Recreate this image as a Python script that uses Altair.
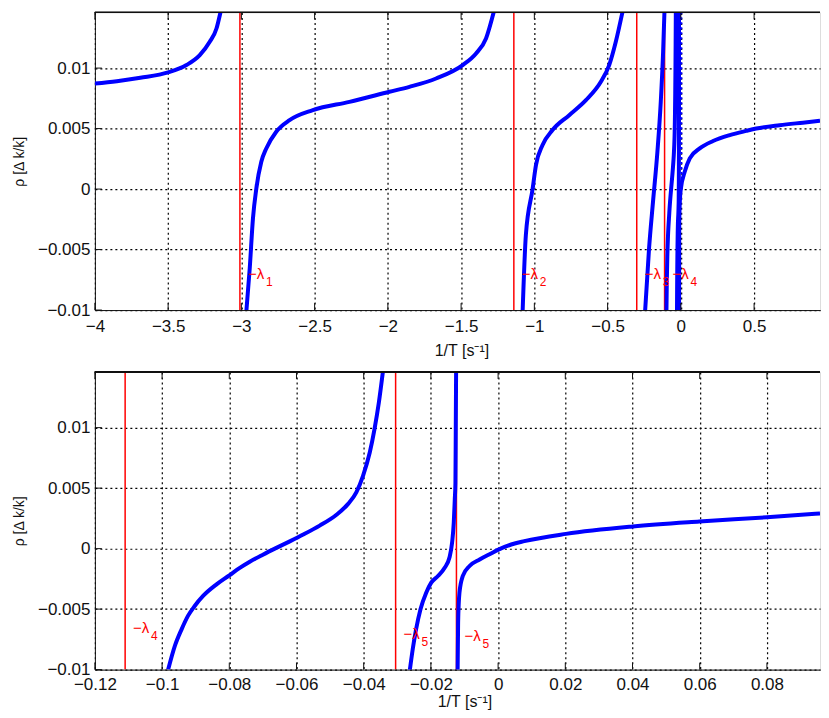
import altair as alt
import pandas as pd

# ---------------- data ----------------
lam = [3.01, 1.14, 0.301, 0.111, 0.0305, 0.0124]   # red lines at x = -lambda
lam_top = [3.01, 1.14, 0.301, 0.111]                # the ones visible in the upper panel

top_lab_x = [-3.01, -1.14, -0.301, -0.111]
top_lab_y = [-0.0074, -0.0074, -0.0074, -0.0074]
top_lab_sub = ["1", "2", "3", "4"]
bot_lab_x = [-0.111, -0.0305, -0.0124]
bot_lab_y = [-0.0070, -0.0075, -0.0076]
bot_lab_sub = ["4", "5", "5"]

# branches of rho(1/T)
b1_x = [-4.0, -3.85, -3.69, -3.5, -3.375, -3.284, -3.216, -3.17, -3.143]
b1_y = [0.00873, 0.00892, 0.0092, 0.00964, 0.01025, 0.01107, 0.01217, 0.01327, 0.0146]

b2_x = [-2.966, -2.943, -2.921, -2.898, -2.864, -2.83, -2.762, -2.671, -2.512,
        -2.262, -1.989, -1.853, -1.671, -1.489, -1.398, -1.33, -1.278]
b2_y = [-0.0101, -0.00656, -0.00243, 0.00005, 0.00226, 0.00336, 0.00474, 0.0057, 0.00653,
        0.00721, 0.00804, 0.00845, 0.00914, 0.01025, 0.01121, 0.01245, 0.0146]

b3_x = [-1.08, -1.058, -1.012, -0.989, -0.944, -0.876, -0.762, -0.648, -0.546, -0.489, -0.444, -0.399]
b3_y = [-0.0101, -0.0038, 0.0, 0.00198, 0.00364, 0.00488, 0.00611, 0.00735, 0.00887, 0.01025, 0.01217, 0.0146]

b4_x = [-0.244, -0.217, -0.19, -0.16, -0.137, -0.121, -0.112]
b4_y = [-0.0101, -0.00491, -0.00105, 0.00308, 0.00721, 0.01135, 0.0146]

b5_x = [-0.0982, -0.0962, -0.0942, -0.0923, -0.0903, -0.0878, -0.0838, -0.0800, -0.0770, -0.0739,
        -0.0700, -0.0660, -0.0620, -0.0580, -0.0531, -0.0481, -0.0447, -0.0422, -0.0402, -0.0382,
        -0.0368, -0.0355, -0.0343]
b5_y = [-0.0100, -0.00804, -0.00667, -0.00556, -0.00474, -0.00391, -0.00295, -0.00221, -0.00161, -0.00108,
        -0.0005, 0.00006, 0.0006, 0.00116, 0.0019, 0.0028, 0.00368, 0.00465, 0.00602, 0.00794,
        0.00986, 0.01206, 0.0146]

b6_x = [-0.0263, -0.0254, -0.0244, -0.0231, -0.0214, -0.0199, -0.0179, -0.0159, -0.0145, -0.0137,
        -0.0132, -0.0129, -0.0127, -0.0126, -0.0125]
b6_y = [-0.0101, -0.0083, -0.00666, -0.00501, -0.00364, -0.00281, -0.00226, -0.00158, -0.00076, 0.00048,
        0.00212, 0.00404, 0.00542, 0.00986, 0.0146]

# right-most branch as read in the lower (zoomed) panel
b7b_x = [-0.01205, -0.0119, -0.0115, -0.0105, -0.0085, -0.0055, -0.0021, 0.0001, 0.0039, 0.0078,
         0.0202, 0.0401, 0.0599, 0.08, 0.0958]
b7b_y = [-0.0101, -0.0061, -0.00364, -0.00226, -0.00144, -0.0009, -0.0004, -0.00008, 0.00034, 0.00062,
         0.00122, 0.00183, 0.00224, 0.00259, 0.00291]
# right-most branch as read in the upper panel
b7t_x = [-0.0121, -0.0110, -0.0055, 0.0, 0.027, 0.061, 0.129, 0.22, 0.334, 0.447, 0.515, 0.674, 0.833, 0.95]
b7t_y = [-0.0100, -0.0028, -0.0007, 0.0, 0.00145, 0.00254, 0.00336, 0.00397, 0.00446, 0.00481,
         0.005, 0.00528, 0.00549, 0.00564]

# thin dotted trace near x = 0 in the upper panel
art_x = [0.005, 0.005]
art_y = [0.0, 0.0146]

top_x_ticks = [-4, -3.5, -3, -2.5, -2, -1.5, -1, -0.5, 0, 0.5]
bot_x_ticks = [-0.12, -0.1, -0.08, -0.06, -0.04, -0.02, 0, 0.02, 0.04, 0.06, 0.08]
y_ticks = [-0.01, -0.005, 0, 0.005, 0.01]
y_top = 0.0146


def curves(branches):
    rows = []
    for b, (xs, ys) in enumerate(branches):
        for i, (xv, yv) in enumerate(zip(xs, ys)):
            rows.append({"branch": b, "i": i, "x": xv, "y": yv})
    return pd.DataFrame(rows)


top_curves = curves([(b1_x, b1_y), (b2_x, b2_y), (b3_x, b3_y), (b4_x, b4_y),
                     (b5_x, b5_y), (b6_x, b6_y), (b7t_x, b7t_y)])
bot_curves = curves([(b5_x, b5_y), (b6_x, b6_y), (b7b_x, b7b_y)])
lam_top_df = pd.DataFrame({"x": [-v for v in lam_top]})
lam_bot_df = pd.DataFrame({"x": [-v for v in lam]})
top_lab = pd.DataFrame({"x": top_lab_x, "y": top_lab_y, "s": top_lab_sub})
bot_lab = pd.DataFrame({"x": bot_lab_x, "y": bot_lab_y, "s": bot_lab_sub})
art_df = pd.DataFrame({"x": art_x, "y": art_y})
yt_df = pd.DataFrame({"y": y_ticks})

FONT = "Liberation Sans"
H = 298
grid_kw = dict(grid=True, gridColor="black", gridDash=[2, 3], gridWidth=1.2, gridOpacity=1)


def panel(cdf, lamdf, labdf, xdom, xticks, width, lab_pad, title_x, title_y, extra=None):
    xax = alt.Axis(values=xticks, title="1/T [s⁻¹]", ticks=False, tickSize=0,
                   domain=True, domainColor="#111", domainWidth=1,
                   labelPadding=lab_pad, labelFontSize=17, labelFont=FONT, labelColor="#111",
                   labelFlush=False, labelOverlap=False, format=".3~g",
                   titleFont=FONT, titleFontSize=16, titleFontWeight="normal", titleColor="#111",
                   titleX=title_x, titleY=title_y, titleBaseline="top", **grid_kw)
    yax = alt.Axis(values=y_ticks, title="ρ [Δ k/k]", ticks=False, tickSize=0,
                   domain=True, domainColor="#111", domainWidth=1,
                   labelPadding=5, labelFontSize=17, labelFont=FONT, labelColor="#111",
                   format=".3~g",
                   titleFont=FONT, titleFontSize=14, titleFontWeight="normal", titleColor="#111",
                   titleX=-75, titleY=H / 2, titleBaseline="middle", **grid_kw)
    xs = alt.Scale(domain=xdom, nice=False, zero=False)
    ys = alt.Scale(domain=[-0.01, y_top], nice=False, zero=False)
    X = alt.X("x:Q", scale=xs, axis=xax)
    Y = alt.Y("y:Q", scale=ys, axis=yax)

    xt_df = pd.DataFrame({"x": xticks})
    rules = alt.Chart(lamdf).mark_rule(color="#ff0000", strokeWidth=1.5, clip=True).encode(x=X)
    lines = alt.Chart(cdf).mark_line(color="#0000ff", strokeWidth=4, clip=True,
                                     interpolate="monotone").encode(
        x=X, y=Y, detail="branch:N", order="i:Q")
    main = alt.Chart(labdf).mark_text(align="left", baseline="alphabetic", dx=8, color="#ff0000",
                                      fontSize=15, font=FONT, clip=True, text="−λ").encode(x=X, y=Y)
    sub = alt.Chart(labdf).mark_text(align="left", baseline="alphabetic", dx=26, dy=7, color="#ff0000",
                                     fontSize=12, font=FONT, clip=True).encode(x=X, y=Y, text="s:N")
    frame_top = alt.Chart(xt_df).mark_rule(color="#111", strokeWidth=1).encode(y=alt.value(0))
    tick_bot = alt.Chart(xt_df).mark_rule(color="#111", strokeWidth=1).encode(
        x=X, y=alt.value(H), y2=alt.value(H - 7))
    tick_top = alt.Chart(xt_df).mark_rule(color="#111", strokeWidth=1).encode(
        x=X, y=alt.value(0), y2=alt.value(7))
    tick_left = alt.Chart(yt_df).mark_rule(color="#111", strokeWidth=1).encode(
        y=Y, x=alt.value(0), x2=alt.value(7))
    layers = [rules, lines]
    if extra is not None:
        layers.append(alt.Chart(extra).mark_line(color="#0000ff", strokeWidth=1.5, strokeDash=[2, 3],
                                                 clip=True).encode(x=X, y=Y))
    layers += [main, sub, frame_top, tick_bot, tick_top, tick_left]
    return alt.layer(*layers).properties(width=width, height=H)


top = panel(top_curves, lam_top_df, top_lab, [-4, 0.95], top_x_ticks, 726, 8, 367, 32, extra=art_df)
bottom = panel(bot_curves, lam_bot_df, bot_lab, [-0.12, 0.0958], bot_x_ticks, 726, 7, 370, 24)

chart = alt.vconcat(top, bottom, spacing=12).properties(
    padding={"left": 4, "top": 3, "right": 0, "bottom": 0}
).configure_view(strokeWidth=0).configure(background="white")

chart.save("out.html", embed_options={"renderer": "svg", "actions": False})
